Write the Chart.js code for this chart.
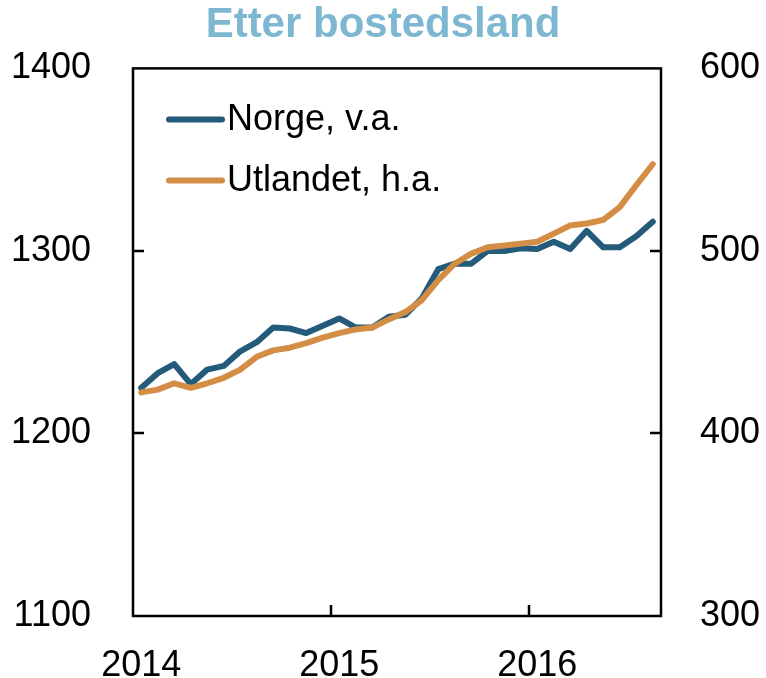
<!DOCTYPE html>
<html>
<head>
<meta charset="utf-8">
<script src="https://cdn.jsdelivr.net/npm/chart.js@4/dist/chart.umd.min.js"></script>
<style>
  html, body { margin: 0; padding: 0; background: #fff; }
  #wrap { width: 766px; height: 678px; }
</style>
</head>
<body>
<div id="wrap"><canvas id="chart" width="766" height="678"></canvas></div>
<script>
// monthly, Jan 2014 - Aug 2016
const months = [];
for (let y = 2014; y <= 2016; y++) {
  for (let m = 1; m <= 12; m++) {
    if (y === 2016 && m > 8) break;
    months.push(y + '-' + String(m).padStart(2, '0'));
  }
}

// Norge, left axis
const norge = [
  1225, 1233, 1238, 1227, 1235, 1237, 1245, 1250, 1258, 1257.5, 1255, 1259,
  1263, 1258, 1258, 1264, 1265, 1274, 1290, 1293, 1293, 1300, 1300, 1301.5,
  1301, 1305, 1301, 1311, 1302, 1302, 1308, 1316
];

// Utlandet, right axis
const utlandet = [
  422.5, 424, 427.5, 425, 427.5, 430.5, 435, 442, 445.5, 447, 449.5, 452.5,
  455, 457, 458, 462.5, 466.5, 473, 484, 493, 498.5, 502, 503, 504,
  505, 509.5, 514, 515, 517, 524, 536, 547.5
];

const leftTicks = [1100, 1200, 1300, 1400];
const rightTicks = [300, 400, 500, 600];

const BLUE = '#245b7a';
const ORANGE = '#d48d45';
const FONT = "'Liberation Sans', Arial, sans-serif";

// box around plot + inward tick marks
const frameTicks = {
  id: 'frameTicks',
  afterDraw(chart) {
    const { ctx, chartArea: a, scales } = chart;
    const len = 11;
    ctx.save();
    ctx.strokeStyle = '#000';
    ctx.lineWidth = 2.5;
    ctx.strokeRect(a.left, a.top, a.right - a.left, a.bottom - a.top);
    ctx.beginPath();
    leftTicks.slice(1, -1).forEach(v => {
      const y = Math.round(scales.y.getPixelForValue(v));
      ctx.moveTo(a.left, y); ctx.lineTo(a.left + len, y);
    });
    rightTicks.slice(1, -1).forEach(v => {
      const y = Math.round(scales.y1.getPixelForValue(v));
      ctx.moveTo(a.right, y); ctx.lineTo(a.right - len, y);
    });
    months.forEach((mth, i) => {
      if (i > 0 && mth.endsWith('-01')) {
        const x = Math.round((scales.x.getPixelForValue(i - 1) + scales.x.getPixelForValue(i)) / 2);
        ctx.moveTo(x, a.bottom); ctx.lineTo(x, a.bottom - len);
      }
    });
    ctx.stroke();
    ctx.restore();
  }
};

// legend inside the plot, top left
const innerLegend = {
  id: 'innerLegend',
  afterDraw(chart) {
    const { ctx, chartArea: a } = chart;
    ctx.save();
    ctx.font = '36px ' + FONT;
    ctx.textBaseline = 'middle';
    chart.data.datasets.forEach((ds, i) => {
      const y = a.top + 51 + i * 61;
      ctx.strokeStyle = ds.borderColor;
      ctx.lineWidth = 6;
      ctx.lineCap = 'round';
      ctx.beginPath();
      ctx.moveTo(a.left + 36, y);
      ctx.lineTo(a.left + 89, y);
      ctx.stroke();
      ctx.fillStyle = '#000';
      ctx.fillText(ds.label, a.left + 94, y + 1);
    });
    ctx.restore();
  }
};

new Chart(document.getElementById('chart'), {
  type: 'line',
  data: {
    labels: months,
    datasets: [
      {
        label: 'Norge, v.a.',
        data: norge,
        yAxisID: 'y',
        borderColor: BLUE,
        borderWidth: 6,
        pointRadius: 0,
        tension: 0,
        borderCapStyle: 'round',
        borderJoinStyle: 'round',
        order: 2
      },
      {
        label: 'Utlandet, h.a.',
        data: utlandet,
        yAxisID: 'y1',
        borderColor: ORANGE,
        borderWidth: 6,
        pointRadius: 0,
        tension: 0,
        borderCapStyle: 'round',
        borderJoinStyle: 'round',
        order: 1
      }
    ]
  },
  options: {
    responsive: false,
    animation: false,
    layout: { padding: 0 },
    plugins: {
      legend: { display: false },
      tooltip: { enabled: false },
      title: {
        display: true,
        text: 'Etter bostedsland',
        color: '#7db7d1',
        font: { family: FONT, size: 42, weight: 'bold' },
        padding: { top: 0, bottom: 18 }
      }
    },
    scales: {
      x: {
        type: 'category',
        offset: true,
        grid: { display: false, offset: true },
        border: { display: false },
        ticks: {
          autoSkip: false,
          maxRotation: 0,
          padding: 20,
          color: '#000',
          font: { family: FONT, size: 36 },
          callback: (v, i) => months[i].endsWith('-01') ? months[i].slice(0, 4) : ''
        },
        afterFit: s => { s.height = 62; }
      },
      y: {
        position: 'left',
        min: 1100, max: 1400,
        afterBuildTicks: s => { s.ticks = leftTicks.map(v => ({ value: v })); },
        grid: { display: false },
        border: { display: false },
        ticks: {
          padding: 34, color: '#000', font: { family: FONT, size: 36 },
          callback: v => String(v)
        },
        afterFit: s => { s.width = 133; }
      },
      y1: {
        position: 'right',
        min: 300, max: 600,
        afterBuildTicks: s => { s.ticks = rightTicks.map(v => ({ value: v })); },
        grid: { display: false },
        border: { display: false },
        ticks: {
          padding: 31, color: '#000', font: { family: FONT, size: 36 },
          callback: v => String(v)
        },
        afterFit: s => { s.width = 105; }
      }
    }
  },
  plugins: [frameTicks, innerLegend]
});
</script>
</body>
</html>
